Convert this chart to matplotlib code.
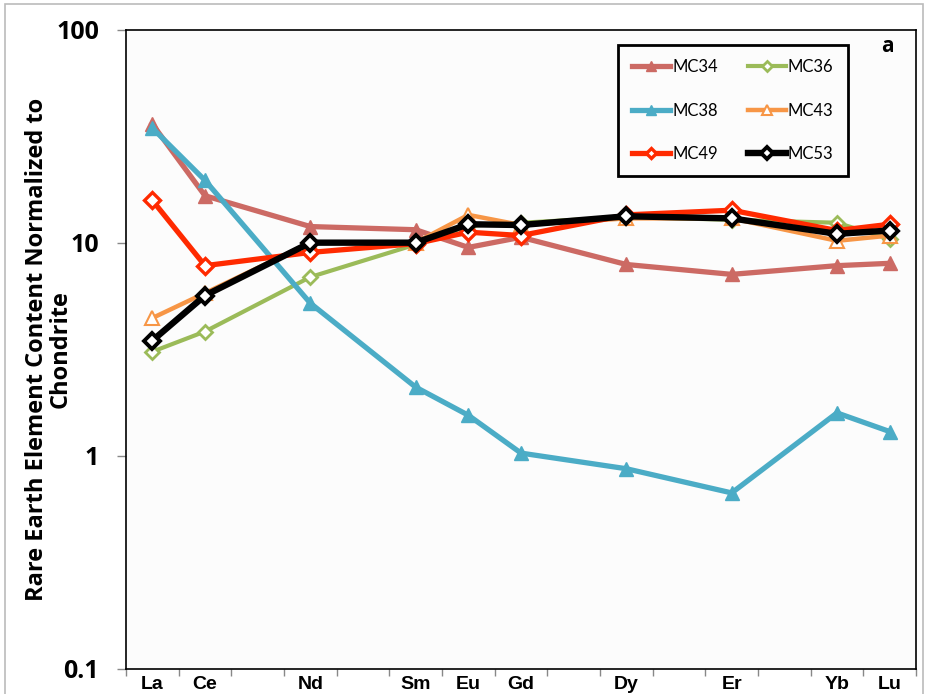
import matplotlib
matplotlib.use("Agg")
import matplotlib.pyplot as plt
from matplotlib.patches import Rectangle
from matplotlib.ticker import FixedLocator, NullFormatter, FixedFormatter, NullLocator

# Categories (full REE row, unlabeled gaps for elements not reported)
categories = ["La", "Ce", "Pr", "Nd", "Pm", "Sm", "Eu", "Gd", "Tb", "Dy", "Ho", "Er", "Tm", "Yb", "Lu"]
tick_labels = ["La", "Ce", "", "Nd", "", "Sm", "Eu", "Gd", "", "Dy", "", "Er", "", "Yb", "Lu"]
elements = ["La", "Ce", "Nd", "Sm", "Eu", "Gd", "Dy", "Er", "Yb", "Lu"]

mc34 = [36.0, 16.6, 11.9, 11.5, 9.5, 10.6, 7.9, 7.1, 7.8, 8.0]
mc36 = [3.08, 3.83, 6.9, 9.8, 12.0, 12.4, 13.2, 12.8, 12.4, 10.4]
mc38 = [34.5, 19.6, 5.2, 2.1, 1.55, 1.03, 0.87, 0.67, 1.59, 1.30]
mc43 = [4.43, 5.8, 10.0, 10.0, 13.5, 12.1, 13.0, 13.0, 10.2, 10.8]
mc49 = [15.8, 7.8, 9.0, 9.9, 11.2, 10.8, 13.5, 14.2, 11.4, 12.2]
mc53 = [3.47, 5.65, 10.0, 10.0, 12.2, 12.1, 13.3, 13.0, 11.0, 11.4]

series = [
    ("MC34", mc34, dict(color="#CC6A64", marker="^", ms=10, mfc="#CC6A64", mec="#CC6A64", lw=3.8)),
    ("MC36", mc36, dict(color="#9BBB59", marker="D", ms=7, mfc="white", mec="#9BBB59", mew=2.0, lw=3.0)),
    ("MC38", mc38, dict(color="#4BACC6", marker="^", ms=10, mfc="#4BACC6", mec="#4BACC6", lw=3.8)),
    ("MC43", mc43, dict(color="#F79646", marker="^", ms=10, mfc="white", mec="#F79646", mew=1.5, lw=3.2)),
    ("MC49", mc49, dict(color="#FF2A00", marker="D", ms=8, mfc="white", mec="#FF2A00", mew=2.4, lw=3.8)),
    ("MC53", mc53, dict(color="black", marker="D", ms=8.5, mfc="white", mec="black", mew=2.8, lw=4.6)),
]

BOLD_FONT = ["Open Sans", "DejaVu Sans"]
REG_FONT = ["Lato", "DejaVu Sans"]

fig = plt.figure(figsize=(9.28, 6.94), dpi=100)
fig.patch.set_facecolor("white")
fig.add_artist(Rectangle((5 / 928, -0.01), 918 / 928, 1 - 4 / 694 + 0.01,
                         transform=fig.transFigure, fill=False, edgecolor="#BBBBBB", lw=1.2))

ax = fig.add_axes([126 / 928, 1 - 669 / 694, (916 - 126) / 928, (669 - 29.5) / 694])
ax.set_facecolor("#FCFCFC")

xpos = [categories.index(e) for e in elements]
handles = {}
for name, vals, st in series:
    (h,) = ax.plot(xpos, vals, label=name, solid_joinstyle="miter", **st)
    handles[name] = h

ax.set_yscale("log")
ax.set_ylim(0.1, 100)
ax.set_xlim(-0.5, len(categories) - 0.5)

ax.yaxis.set_major_locator(FixedLocator([0.1, 1, 10, 100]))
ax.yaxis.set_major_formatter(FixedFormatter(["0.1", "1", "10", "100"]))
ax.yaxis.set_minor_locator(NullLocator())
ax.tick_params(axis="y", which="major", direction="out", length=6.5, width=1, color="#888888", pad=13)
for lab in ax.get_yticklabels():
    lab.set_fontfamily(BOLD_FONT)
    lab.set_fontweight("bold")
    lab.set_fontsize(18)

ax.xaxis.set_major_locator(FixedLocator(list(range(len(categories)))))
ax.xaxis.set_major_formatter(FixedFormatter(tick_labels))
ax.xaxis.set_minor_locator(FixedLocator([i - 0.5 for i in range(len(categories) + 1)]))
ax.xaxis.set_minor_formatter(NullFormatter())
ax.tick_params(axis="x", which="major", length=0, pad=5)
ax.tick_params(axis="x", which="minor", direction="out", length=5, width=1, color="#888888")
for lab in ax.get_xticklabels():
    lab.set_fontfamily(["Liberation Sans Narrow", "Liberation Sans", "DejaVu Sans"])
    lab.set_fontweight("bold")
    lab.set_fontsize(14)

for sp in ax.spines.values():
    sp.set_color("black")
    sp.set_linewidth(1.2)

ax.set_ylabel("Rare Earth Element Content Normalized to\nChondrite", fontsize=17,
              fontweight="bold", fontfamily=BOLD_FONT, linespacing=0.95)
ax.yaxis.label.set_va("center")
ax.yaxis.set_label_coords((49 - 126) / 790, 0.5)

order = ["MC34", "MC38", "MC49", "MC36", "MC43", "MC53"]
leg = ax.legend([handles[n] for n in order], order, ncol=2, loc="upper left",
                bbox_to_anchor=((618 - 126) / 790, 1 - (45 - 29.5) / 639.5), borderaxespad=0,
                frameon=True, fancybox=False, edgecolor="black", framealpha=1,
                prop={"family": REG_FONT, "size": 12}, handlelength=2.3, handletextpad=0.1,
                columnspacing=1.8, labelspacing=1.65, borderpad=0.85, markerscale=0.7)
leg.get_frame().set_linewidth(2.0)
leg.get_frame().set_facecolor("#FCFCFC")

fig.text(887 / 928, 1 - 46 / 694, "a", fontsize=15, fontweight="bold", ha="center", va="center",
         fontfamily=BOLD_FONT)

fig.savefig("out.png", dpi=100)
